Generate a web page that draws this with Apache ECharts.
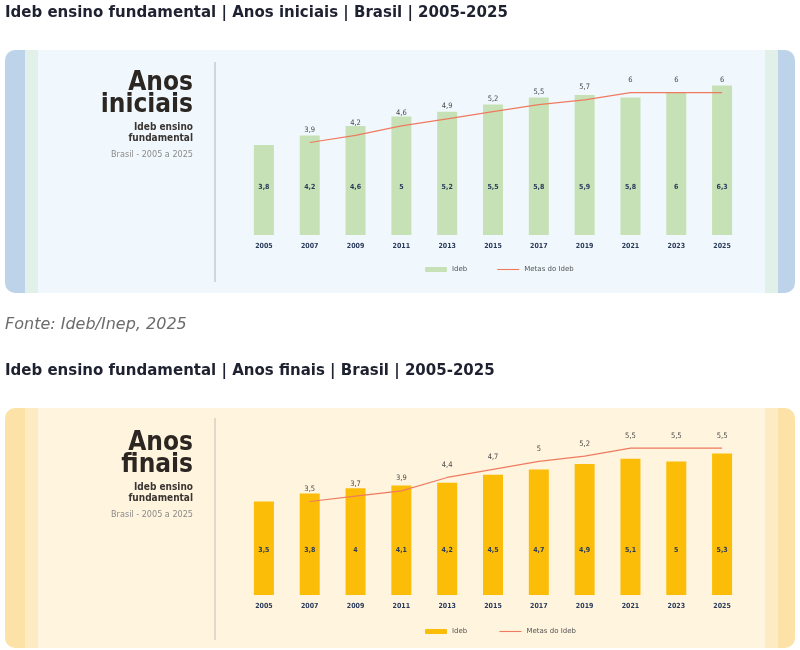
<!DOCTYPE html>
<html><head><meta charset="utf-8">
<script src="https://cdn.jsdelivr.net/npm/echarts@6/dist/echarts.min.js"></script>
<style>html,body{margin:0;padding:0;background:#fff}#main{width:800px;height:650px}</style>
</head><body><div id="main"></div>
<script>
var anos = ['2005','2007','2009','2011','2013','2015','2017','2019','2021','2023','2025'];
var idebIniciais = [3.8,4.2,4.6,5,5.2,5.5,5.8,5.9,5.8,6,6.3];
var metasIniciais = [null,3.9,4.2,4.6,4.9,5.2,5.5,5.7,6,6,6];
var idebFinais = [3.5,3.8,4,4.1,4.2,4.5,4.7,4.9,5.1,5,5.3];
var metasFinais = [null,3.5,3.7,3.9,4.4,4.7,5,5.2,5.5,5.5,5.5];

var myChart = echarts.init(document.getElementById('main'));
function br(v) { return String(v).replace('.', ','); }
var font = 'DejaVu Sans';

function panel(y, h, bg, c1, c2) {
    return [
        { type: 'rect', shape: { x: 5, y: y, width: 790, height: h, r: 10 }, style: { fill: c1 } },
        { type: 'rect', shape: { x: 25, y: y, width: 740, height: h }, style: { fill: c2 } },
        { type: 'rect', shape: { x: 38, y: y, width: 727, height: h }, style: { fill: bg } },
        { type: 'rect', shape: { x: 765, y: y, width: 13, height: h }, style: { fill: c2 } }
    ];
}
function heading(y, l1, l2) {
    return [
        { type: 'text', x: 193, y: y, style: { text: l1 + '\n' + l2, fill: '#2b2622', font: 'bold 26px "DejaVu Sans Condensed", sans-serif', textAlign: 'right', lineHeight: 22 } },
        { type: 'text', x: 193, y: y + 50, style: { text: 'Ideb ensino\nfundamental', fill: '#3a3532', font: 'bold 10px "DejaVu Sans Condensed", sans-serif', textAlign: 'right', lineHeight: 11 } },
        { type: 'text', x: 193, y: y + 78, style: { text: 'Brasil - 2005 a 2025', fill: '#8a8a8a', font: '9px "DejaVu Sans Condensed", sans-serif', textAlign: 'right' } }
    ];
}

var graphics = [].concat(
    [{ type: 'text', x: 5, y: 6, style: { text: 'Ideb ensino fundamental | Anos iniciais | Brasil | 2005-2025', fill: '#1e2230', font: 'bold 15px ' + font } }],
    panel(50, 243, '#f0f8fd', '#bcd3ea', '#e2f0ea'),
    heading(72, 'Anos', 'iniciais'),
    [{ type: 'line', shape: { x1: 215, y1: 62, x2: 215, y2: 282 }, style: { stroke: '#c9ccce', lineWidth: 1.5 } }],
    [{ type: 'text', x: 5, y: 317, style: { text: 'Fonte: Ideb/Inep, 2025', fill: '#6b6b6b', font: 'italic 16px ' + font } }],
    [{ type: 'text', x: 5, y: 364, style: { text: 'Ideb ensino fundamental | Anos finais | Brasil | 2005-2025', fill: '#1e2230', font: 'bold 15px ' + font } }],
    panel(408, 240, '#fff4de', '#fde2a8', '#fdebc4'),
    heading(432, 'Anos', 'finais'),
    [{ type: 'line', shape: { x1: 215, y1: 418, x2: 215, y2: 640 }, style: { stroke: '#d8d2c2', lineWidth: 1.5 } }]
);

function xAxis(i) {
    return {
        type: 'category', gridIndex: i, data: anos,
        axisLine: { show: false }, axisTick: { show: false },
        axisLabel: { color: '#2a3a5a', fontWeight: 'bold', fontSize: 7, margin: 8, fontFamily: 'DejaVu Sans Condensed' }
    };
}
function yAxis(i) {
    return { type: 'value', gridIndex: i, min: 0, max: 7, show: false, splitLine: { show: false } };
}
function bars(i, name, data, color, dist) {
    return {
        type: 'bar', name: name, xAxisIndex: i, yAxisIndex: i, data: data, barWidth: 20,
        itemStyle: { color: color },
        label: { show: true, position: 'insideBottom', distance: dist, formatter: function (p) { return br(p.value); },
            color: '#2a3a5a', fontSize: 7, fontWeight: 'bold', fontFamily: 'DejaVu Sans Condensed' }
    };
}
function metas(i, data) {
    return {
        type: 'line', name: 'Metas do Ideb', xAxisIndex: i, yAxisIndex: i, data: data,
        symbol: 'circle', symbolSize: 1, showSymbol: true,
        lineStyle: { color: '#f07a60', width: 1.2 }, itemStyle: { color: '#f07a60', opacity: 0 },
        label: { show: true, position: 'top', distance: 8, formatter: function (p) { return br(p.value); },
            color: '#4a4a4a', fontSize: 7.5, fontFamily: 'DejaVu Sans Condensed', opacity: 1 }
    };
}
function legend(top, name, color) {
    return { top: top, left: 420, itemWidth: 22, itemHeight: 5, itemGap: 30,
        data: [{ name: name, itemStyle: { color: color } }, { name: 'Metas do Ideb', icon: 'path://M0,0H20V1H0Z', itemStyle: { color: '#f07a60', opacity: 1 } }],
        textStyle: { fontSize: 7, color: '#555' } };
}

option = {
    animation: false,
    textStyle: { fontFamily: font },
    graphic: graphics,
    grid: [
        { left: 241, right: 55, top: 69, height: 166 },
        { left: 241, right: 55, top: 408, height: 187 }
    ],
    xAxis: [xAxis(0), xAxis(1)],
    yAxis: [yAxis(0), yAxis(1)],
    legend: [legend(261, 'Ideb', '#c5e1b5'), legend(623, 'Ideb ', '#fbbd08')],
    series: [
        bars(0, 'Ideb', idebIniciais, '#c5e1b5', 44),
        metas(0, metasIniciais),
        bars(1, 'Ideb ', idebFinais, '#fbbd08', 41),
        metas(1, metasFinais)
    ]
};
myChart.setOption(option);
</script>
</body></html>
